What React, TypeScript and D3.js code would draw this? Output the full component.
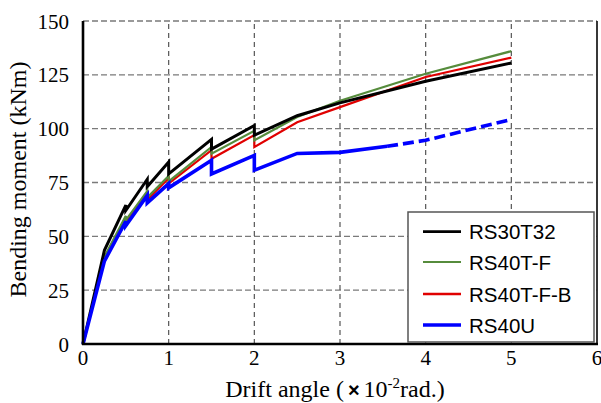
import React from "react";
import * as d3 from "d3";

// drift angle (x10^-2 rad) and bending moment (kNm) for each specimen
const driftT = [0, 0.25, 0.5, 0.5, 0.75, 0.75, 1, 1, 1.5, 1.5, 2, 2, 2.5, 3, 4, 5];
const rs30t32 = [0, 43.5, 64.5, 62, 76.5, 73, 84.5, 79, 95, 90.5, 101.5, 97, 106, 112, 122, 130.5];
const rs40tf = [0, 40.5, 59.5, 57.5, 71, 68, 78, 75.5, 91.5, 88.4, 99, 94.6, 105.4, 113, 125.5, 136];
const rs40tfb = [0, 40, 59, 57, 70, 67, 77, 74.5, 90, 86, 97, 91.5, 103, 110, 124, 133];

const driftU = [0, 0.25, 0.5, 0.5, 0.75, 0.75, 1, 1, 1.5, 1.5, 2, 2, 2.5, 3, 3.55];
const rs40u = [0, 38.5, 57, 55, 69, 65.5, 74.5, 72.5, 85.3, 79, 87.6, 80.7, 88.5, 89, 91.8];
const driftUDash = [3.55, 4, 5];
const rs40uDash = [91.8, 94.6, 104.3];

const xTicks = [0, 1, 2, 3, 4, 5, 6];
const yTicks = [0, 25, 50, 75, 100, 125, 150];

const legendItems = [
  { name: "RS30T32", color: "#000000", width: 2.8 },
  { name: "RS40T-F", color: "#568c3c", width: 2 },
  { name: "RS40T-F-B", color: "#e00000", width: 2.6 },
  { name: "RS40U", color: "#0000ff", width: 3.6 },
];

const W = 601;
const H = 403;
const margin = { left: 83, top: 21, right: 4, bottom: 59 };

const App = () => {
  const x = d3.scaleLinear().domain([0, 6]).range([margin.left, W - margin.right]);
  const y = d3.scaleLinear().domain([0, 150]).range([H - margin.bottom, margin.top]);

  const line = d3
    .line<[number, number]>()
    .x((d) => x(d[0]))
    .y((d) => y(d[1]));

  const zip = (xs: number[], ys: number[]) => xs.map((v, i) => [v, ys[i]] as [number, number]);

  const series = [
    { d: zip(driftT, rs40tfb), color: "#e00000", width: 2.2 },
    { d: zip(driftT, rs40tf), color: "#568c3c", width: 2.2 },
    { d: zip(driftT, rs30t32), color: "#000000", width: 3 },
    { d: zip(driftU, rs40u), color: "#0000ff", width: 3.6 },
  ];

  const x0 = x(0), x1 = x(6), y0 = y(0), y1 = y(150);
  const legend = { x: 408, y: 212, w: 186, h: 130 };

  return (
    <svg
      width={W}
      height={H}
      style={{ position: "absolute", left: 0, top: 0, background: "#fff" }}
    >
      {/* grid */}
      {yTicks.slice(1).map((t) => (
        <line key={"gy" + t} x1={x0} x2={x1} y1={y(t)} y2={y(t)} stroke="#7a7a7a" strokeWidth={1.4} strokeDasharray="6,3" />
      ))}
      {xTicks.slice(1, -1).map((t) => (
        <line key={"gx" + t} x1={x(t)} x2={x(t)} y1={y0} y2={y1} stroke="#555" strokeWidth={1.2} strokeDasharray="5,4" />
      ))}

      {/* series */}
      {series.map((s, i) => (
        <path key={i} d={line(s.d) || ""} fill="none" stroke={s.color} strokeWidth={s.width} strokeLinejoin="miter" />
      ))}
      <path
        d={line(zip(driftUDash, rs40uDash)) || ""}
        fill="none"
        stroke="#0000ff"
        strokeWidth={3.6}
        strokeDasharray="11,5"
      />

      {/* frame */}
      <line x1={x1} x2={x1} y1={y0} y2={y1} stroke="#222" strokeWidth={1.8} />
      <line x1={x0} x2={x0} y1={y0 + 1} y2={y1} stroke="#000" strokeWidth={2.6} />
      <line x1={x0 - 1} x2={x1 + 1} y1={y0} y2={y0} stroke="#000" strokeWidth={2.6} />

      {/* tick labels */}
      {yTicks.map((t) => (
        <text key={"ty" + t} x={x0 - 14} y={y(t) + 7.5} textAnchor="end" fontFamily="'Liberation Serif', 'Times New Roman', serif" fontSize={21}>
          {t}
        </text>
      ))}
      {xTicks.map((t) => (
        <text key={"tx" + t} x={x(t)} y={365} textAnchor="middle" fontFamily="'Liberation Serif', 'Times New Roman', serif" fontSize={21}>
          {t}
        </text>
      ))}

      {/* axis titles */}
      <text
        transform={`translate(26, 179.5) rotate(-90)`}
        textAnchor="middle"
        fontFamily="'Liberation Serif', 'Times New Roman', serif"
        fontSize={24}
      >
        Bending moment (kNm)
      </text>
      <text x={335} y={397} textAnchor="middle" fontFamily="'Liberation Serif', 'Times New Roman', serif" fontSize={24}>
        Drift angle (
        <tspan fontFamily="'Liberation Sans', Arial, sans-serif" fontWeight="bold" fontSize={20} dx={4}>×</tspan>
        <tspan dx={4}>10</tspan>
        <tspan fontSize={15} dy={-9}>-2</tspan>
        <tspan dy={9}>rad.)</tspan>
      </text>

      {/* legend */}
      <rect x={legend.x} y={legend.y} width={legend.w} height={legend.h} fill="#fff" stroke="#555" strokeWidth={1.5} />
      {legendItems.map((item, i) => {
        const cy = [231.7, 262, 294, 325][i];
        return (
          <g key={item.name}>
            <line x1={423} x2={461} y1={cy} y2={cy} stroke={item.color} strokeWidth={item.width} />
            <text x={469} y={cy + 7.5} fontFamily="'Liberation Sans', Arial, sans-serif" fontSize={20.5}>
              {item.name}
            </text>
          </g>
        );
      })}
    </svg>
  );
};

export default App;
